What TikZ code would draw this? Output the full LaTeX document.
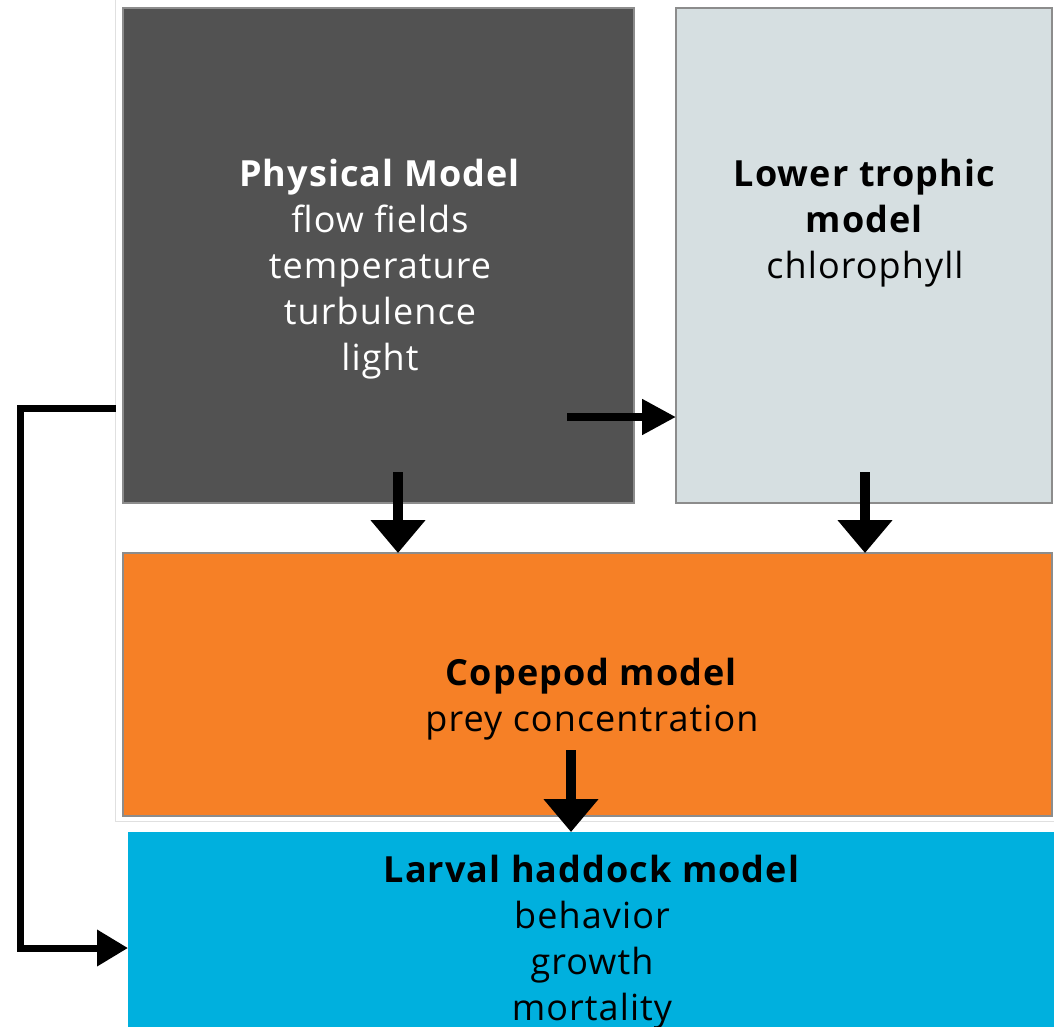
\documentclass[tikz,border=0pt]{standalone}
\usepackage{fontspec}
\setmainfont{Open Sans}[LetterSpace=3]
\usetikzlibrary{arrows.meta}
\definecolor{physgray}{HTML}{525252}
\definecolor{lowgray}{HTML}{D6DFE1}
\definecolor{copeorange}{HTML}{F68026}
\definecolor{larvcyan}{HTML}{00B0DE}
\tikzset{
  box/.style={draw=black!45, line width=1.2pt, inner sep=0pt, outer sep=0pt},
  lbl/.style={align=center, inner sep=0pt, anchor=north, font=\fontsize{36}{46}\selectfont},
  hconn/.style={line width=8pt, -{Triangle[length=34pt,width=34pt]}},
  vconn/.style={line width=10pt, -{Triangle[length=33pt,width=53pt]}},
  lconn/.style={line width=7pt, line cap=rect, -{Triangle[length=31pt,width=35pt]}}
}
\begin{document}
\begin{tikzpicture}[x=1pt,y=-1pt]
\useasboundingbox (0,0) rectangle (1054,1026);
\fill[white] (0,0) rectangle (1054,1026);
% faint frame
\draw[black!12, line width=1pt] (115,0) -- (115,821) -- (1054,821);
% boxes
\node[box, fill=physgray, minimum width=511pt, minimum height=495pt] (phys) at (378.5,255.5) {};
\node[box, fill=lowgray, minimum width=376pt, minimum height=495pt] (low) at (864,255.5) {};
\node[box, fill=copeorange, minimum width=929pt, minimum height=263pt] (cope) at (587.5,684.5) {};
\node[box, draw=none, fill=larvcyan, minimum width=932pt, minimum height=208pt] (larv) at (594,936) {};
% labels
\node[lbl, text=white] (physlbl) at (380,159) {\textbf{Physical Model}\\flow fields\\temperature\\turbulence\\light};
\node[lbl, text=black] (lowlbl) at (865,159) {\textbf{Lower trophic}\\\textbf{model}\\chlorophyll};
\node[lbl, text=black] (copelbl) at (592,658) {\textbf{Copepod model}\\prey concentration};
\node[lbl, text=black] (larvlbl) at (592,855) {\textbf{Larval haddock model}\\behavior\\growth\\mortality};
% connectors
\coordinate (physR) at (567,417);
\draw[hconn] (physR) -- (low.west |- physR);
\coordinate (physD) at (398,472);
\draw[vconn] (physD) -- (physD |- cope.north);
\coordinate (lowD) at (865,472);
\draw[vconn] (lowD) -- (lowD |- cope.north);
\coordinate (copeD) at (571,750);
\draw[vconn] (copeD) -- (copeD |- larv.north);
\coordinate (physL) at (112,408);
\coordinate (larvL) at (128,948);
\draw[lconn] (physL) -- (20,408) |- (larvL);
\end{tikzpicture}
\end{document}
